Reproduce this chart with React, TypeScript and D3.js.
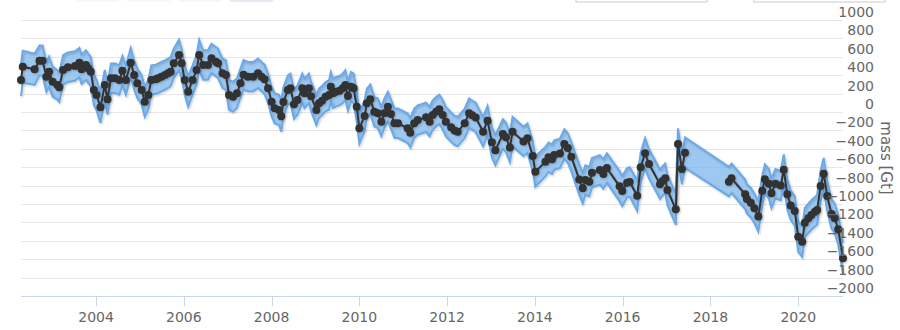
import React from 'react';
import * as d3 from 'd3';

// [decimal year, mass (Gt), uncertainty (Gt)]
const graceMonths: [number, number, number][] = [
  [2002.29, 348, 175], [2002.33, 492, 175], [2002.60, 464, 170], [2002.71, 558, 165], [2002.78, 558, 165],
  [2002.87, 384, 165], [2002.93, 438, 165], [2003.01, 329, 165], [2003.12, 293, 160], [2003.16, 268, 160],
  [2003.25, 457, 160], [2003.36, 486, 160], [2003.52, 500, 160], [2003.62, 536, 160], [2003.67, 464, 160],
  [2003.77, 511, 160], [2003.82, 475, 160], [2003.88, 438, 160], [2003.95, 239, 165], [2004.01, 185, 165],
  [2004.10, 51, 170], [2004.20, 293, 165], [2004.26, 138, 165], [2004.34, 366, 160], [2004.43, 366, 160],
  [2004.53, 348, 160], [2004.60, 449, 160], [2004.68, 348, 160], [2004.79, 536, 160], [2004.87, 402, 160],
  [2004.94, 312, 160], [2005.04, 239, 160], [2005.11, 112, 165], [2005.19, 185, 160], [2005.26, 348, 160],
  [2005.36, 355, 160], [2005.41, 366, 160], [2005.49, 384, 160], [2005.57, 402, 160], [2005.64, 420, 160],
  [2005.70, 438, 160], [2005.77, 529, 160], [2005.89, 620, 165], [2005.95, 529, 160], [2006.02, 348, 160],
  [2006.10, 221, 165], [2006.20, 348, 160], [2006.29, 457, 160], [2006.35, 620, 165], [2006.44, 511, 160],
  [2006.55, 511, 160], [2006.63, 583, 160], [2006.73, 547, 160], [2006.78, 529, 160], [2006.88, 420, 160],
  [2006.96, 402, 160], [2007.03, 185, 165], [2007.12, 166, 165], [2007.21, 203, 160], [2007.29, 312, 160],
  [2007.36, 404, 160], [2007.46, 384, 160], [2007.58, 384, 160], [2007.69, 420, 160], [2007.77, 384, 160],
  [2007.84, 355, 160], [2007.92, 257, 160], [2008.00, 112, 160], [2008.07, 40, 165], [2008.17, 22, 165],
  [2008.22, -45, 170], [2008.27, 110, 160], [2008.37, 239, 160], [2008.43, 257, 160], [2008.51, 85, 160],
  [2008.59, 130, 160], [2008.70, 257, 160], [2008.75, 203, 160], [2008.85, 257, 160], [2008.90, 170, 160],
  [2009.02, 22, 165], [2009.08, 94, 160], [2009.15, 123, 160], [2009.23, 166, 160], [2009.31, 185, 160],
  [2009.35, 275, 160], [2009.40, 203, 160], [2009.47, 221, 160], [2009.55, 232, 160], [2009.62, 257, 160],
  [2009.68, 293, 160], [2009.74, 174, 160], [2009.81, 275, 160], [2009.87, 257, 160], [2009.94, 58, 165],
  [2010.00, -177, 170], [2010.12, -43, 165], [2010.17, 94, 160], [2010.25, 138, 160], [2010.34, 3, 160],
  [2010.42, -14, 160], [2010.50, -105, 160], [2010.57, -14, 160], [2010.65, 58, 160], [2010.72, -22, 160],
  [2010.80, -123, 160], [2010.88, -123, 160], [2011.10, -177, 160], [2011.16, -225, 160], [2011.25, -123, 160],
  [2011.33, -87, 160], [2011.52, -58, 160], [2011.60, -105, 160], [2011.67, -33, 160], [2011.75, 3, 160],
  [2011.82, 29, 160], [2011.90, -33, 160], [2011.97, -105, 160], [2012.09, -165, 160], [2012.17, -200, 160],
  [2012.24, -214, 160], [2012.40, -123, 160], [2012.50, -14, 160], [2012.57, -35, 160], [2012.65, -60, 160],
  [2012.82, -214, 160], [2012.92, -94, 160], [2013.02, -330, 165], [2013.10, -415, 165], [2013.27, -239, 160],
  [2013.34, -275, 160], [2013.43, -386, 160], [2013.49, -214, 160], [2013.74, -320, 160], [2013.83, -285, 160],
  [2013.95, -478, 165], [2014.01, -649, 165], [2014.24, -540, 160], [2014.31, -492, 160], [2014.39, -514, 160],
  [2014.44, -467, 160], [2014.57, -450, 160], [2014.67, -348, 160], [2014.75, -392, 160], [2014.83, -486, 160],
  [2015.01, -735, 165], [2015.09, -829, 165], [2015.15, -740, 160], [2015.24, -757, 160], [2015.30, -660, 160],
  [2015.48, -630, 160], [2015.56, -674, 160], [2015.64, -610, 160], [2015.93, -808, 165], [2015.99, -860, 165],
  [2016.10, -770, 160], [2016.16, -760, 160], [2016.33, -910, 165], [2016.41, -601, 160], [2016.51, -449, 165],
  [2016.60, -565, 160], [2016.85, -786, 160], [2016.91, -750, 160], [2016.97, -721, 160], [2017.02, -848, 165],
  [2017.21, -1058, 170], [2017.26, -348, 170], [2017.35, -620, 165], [2017.42, -442, 165],
];

const graceFoMonths: [number, number, number][] = [
  [2018.42, -757, 160], [2018.48, -721, 160], [2018.79, -895, 160], [2018.83, -945, 160], [2018.92, -986, 160],
  [2019.00, -1047, 160], [2019.09, -1135, 165], [2019.18, -855, 160], [2019.24, -730, 160], [2019.33, -779, 160],
  [2019.39, -884, 160], [2019.48, -779, 160], [2019.60, -800, 160], [2019.67, -627, 165], [2019.75, -895, 160],
  [2019.83, -1015, 160], [2019.92, -1075, 160], [2020.00, -1355, 165], [2020.09, -1410, 165], [2020.15, -1203, 160],
  [2020.23, -1155, 160], [2020.30, -1120, 160], [2020.38, -1084, 160], [2020.43, -1065, 160], [2020.51, -804, 165],
  [2020.58, -670, 170], [2020.66, -913, 165], [2020.76, -1109, 160], [2020.83, -1155, 160], [2020.91, -1275, 165],
  [2021.02, -1590, 170],
];

const yTicks = [1000, 800, 600, 400, 200, 0, -200, -400, -600, -800, -1000, -1200, -1400, -1600, -1800, -2000];
const xTicks = [2004, 2006, 2008, 2010, 2012, 2014, 2016, 2018, 2020];
const yTitle = 'mass [Gt]';
const rangeButtons = [0, 1, 2, 3];

type P = [number, number, number];

export default function App() {
  const W = 900;
  const H = 330;
  const left = 21;
  const right = 843;
  const top = 20;
  const bottom = 296;
  const all: P[] = [...graceMonths, ...graceFoMonths];

  const x = d3.scaleLinear().domain([all[0][0], all[all.length - 1][0]]).range([left, right]);
  const y = d3.scaleLinear().domain([-2000, 1000]).range([bottom, top]);

  const band = d3.area<P>().x(d => x(d[0])).y0(d => y(d[1] - d[2])).y1(d => y(d[1] + d[2]));
  const upper = d3.line<P>().x(d => x(d[0])).y(d => y(d[1] + d[2]));
  const lower = d3.line<P>().x(d => x(d[0])).y(d => y(d[1] - d[2]));
  const line = d3.line<P>().x(d => x(d[0])).y(d => y(d[1]));

  const font = "'DejaVu Sans', Verdana, sans-serif";

  return (
    <svg width={W} height={H} style={{ position: 'absolute', left: 0, top: 0, background: '#fff' }} fontFamily={font}>
      <defs>
        <filter id="shadow" x="-5%" y="-5%" width="110%" height="120%">
          <feDropShadow dx="1" dy="1" stdDeviation="1.2" floodColor="#000" floodOpacity="0.22" />
        </filter>
      </defs>
      <rect width={W} height={H} fill="#fff" />
      {/* range selector remnants at top */}
      {rangeButtons.map(i => (
        <rect key={i} x={75 + i * 51.5} y={-20} width={44} height={22} rx={2}
          fill={i === 3 ? '#e6ebf5' : '#f7f7f7'} />
      ))}
      <rect x={576} y={-20} width={131} height={22} fill="#fff" stroke="#cccccc" />
      <rect x={754} y={-20} width={131} height={22} fill="#fff" stroke="#cccccc" />

      {/* grid */}
      {yTicks.map(t => (
        <line key={t} x1={left} x2={right} y1={Math.round(y(t)) + 0.5} y2={Math.round(y(t)) + 0.5}
          stroke="#e6e6e6" strokeWidth={1} />
      ))}

      {/* band */}
      <path d={band(all) || ''} fill="#7cb5ec" fillOpacity={0.75} />
      <g filter="url(#shadow)">
        <path d={upper(all) || ''} fill="none" stroke="#6aa8e8" strokeWidth={2} />
        <path d={lower(all) || ''} fill="none" stroke="#6aa8e8" strokeWidth={2} />
      </g>

      {/* line */}
      <g filter="url(#shadow)">
        <path d={line(graceMonths) || ''} fill="none" stroke="#333333" strokeWidth={2} />
        <path d={line(graceFoMonths) || ''} fill="none" stroke="#333333" strokeWidth={2} />
        {all.map((d, i) => (
          <circle key={i} cx={x(d[0])} cy={y(d[1])} r={4} fill="#333333" />
        ))}
      </g>

      {/* x axis */}
      <line x1={left} x2={right} y1={bottom + 0.5} y2={bottom + 0.5} stroke="#ccd6eb" strokeWidth={1} />
      {xTicks.map(t => (
        <g key={t}>
          <line x1={Math.round(x(t)) + 0.5} x2={Math.round(x(t)) + 0.5} y1={bottom} y2={bottom + 10} stroke="#ccd6eb" />
          <text x={x(t)} y={322} textAnchor="middle" fontSize={14} fill="#666666">{t}</text>
        </g>
      ))}

      {/* y axis labels (right) */}
      {yTicks.map(t => (
        <text key={t} x={874} y={y(t) - 3} textAnchor="end" fontSize={14} fill="#666666">
          {t < 0 ? '\u2212' + Math.abs(t) : t}
        </text>
      ))}
      <text transform={`translate(885, ${(top + bottom) / 2}) rotate(90)`} textAnchor="middle"
        dominantBaseline="middle" fontSize={15} fill="#666666">{yTitle}</text>
    </svg>
  );
}
